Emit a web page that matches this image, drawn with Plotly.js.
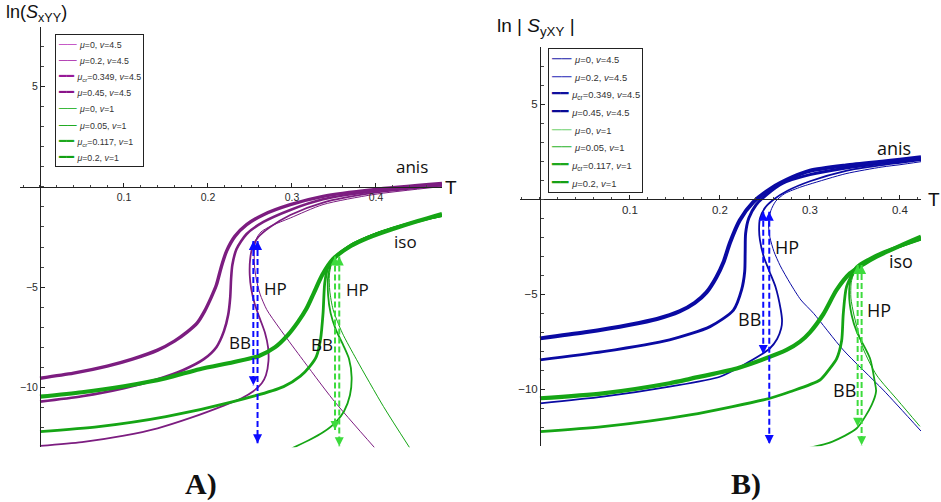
<!DOCTYPE html>
<html><head><meta charset="utf-8">
<script src="https://cdn.plot.ly/plotly-3.0.1.min.js"></script>
<style>html,body{margin:0;padding:0;background:#fff}</style>
</head><body>
<div id="chart" style="width:941px;height:502px"></div>
<script>
// ---------- Panel A : ln(S_xYY) ----------
// purple, v = 4.5
const aP0_T   = [0.399, 0.349, 0.31, 0.285, 0.27, 0.262, 0.2575, 0.2553, 0.2552, 0.2575, 0.263, 0.275, 0.298, 0.337, 0.397, 0.4786];
const aP0_Y   = [-13.05, -10.63, -8.47, -7.05, -6.13, -5.35, -4.6, -3.9, -3.2, -2.6, -2.25, -1.95, -1.55, -0.88, -0.38, 0.02];
const aP02_T  = [0, 0.05, 0.1, 0.14, 0.18, 0.218, 0.24, 0.254, 0.264, 0.269, 0.272, 0.2715, 0.268, 0.262, 0.256, 0.2515, 0.2497, 0.2502, 0.253, 0.26, 0.274, 0.298, 0.337, 0.397, 0.4786];
const aP02_Y  = [-12.93, -12.74, -12.42, -12.05, -11.52, -10.93, -10.55, -10.2, -9.8, -9.4, -8.7, -8.0, -7.3, -6.6, -5.9, -5.1, -4.4, -3.6, -3.0, -2.5, -2.0, -1.4, -0.78, -0.3, 0.07];
const aPcr_T  = [0, 0.05, 0.1, 0.14, 0.17, 0.195, 0.21, 0.219, 0.224, 0.2265, 0.2275, 0.229, 0.234, 0.246, 0.266, 0.298, 0.337, 0.397, 0.4786];
const aPcr_Y  = [-10.72, -10.45, -10.05, -9.6, -9.15, -8.6, -8.0, -7.2, -6.4, -5.5, -4.6, -3.9, -3.1, -2.35, -1.75, -1.15, -0.62, -0.22, 0.12];
const aP045_T = [0, 0.04, 0.08, 0.11, 0.14, 0.16, 0.175, 0.187, 0.196, 0.204, 0.21, 0.216, 0.222, 0.232, 0.246, 0.266, 0.298, 0.337, 0.397, 0.4786];
const aP045_Y = [-9.55, -9.3, -8.95, -8.6, -8.15, -7.7, -7.25, -6.8, -6.2, -5.5, -4.9, -3.97, -3.22, -2.47, -1.885, -1.385, -0.885, -0.47, -0.135, 0.17];
// green, v = 1
const aG0_T   = [0.4405, 0.409, 0.377, 0.36, 0.349, 0.345, 0.3445, 0.347, 0.353, 0.37, 0.4, 0.44, 0.4786];
const aG0_Y   = [-13.05, -10.97, -8.63, -7.3, -6.13, -5.2, -4.4, -3.85, -3.4, -2.85, -2.3, -1.8, -1.48];
const aG005_T = [0.3, 0.32, 0.337, 0.352, 0.362, 0.369, 0.371, 0.368, 0.361, 0.352, 0.346, 0.343, 0.343, 0.346, 0.352, 0.37, 0.4, 0.44, 0.4786];
const aG005_Y = [-13.05, -12.65, -12.25, -11.75, -11.2, -10.4, -9.5, -8.6, -7.9, -7.1, -6.3, -5.4, -4.5, -3.9, -3.45, -2.9, -2.32, -1.8, -1.45];
const aGcr_T  = [0, 0.07, 0.15, 0.23, 0.29, 0.31, 0.321, 0.329, 0.334, 0.337, 0.339, 0.343, 0.352, 0.37, 0.4, 0.44, 0.4786];
const aGcr_Y  = [-12.22, -11.97, -11.47, -10.72, -9.97, -9.45, -8.97, -8.47, -7.6, -6.3, -4.8, -4.0, -3.5, -2.95, -2.35, -1.83, -1.42];
const aG02_T  = [0, 0.05, 0.1, 0.15, 0.19, 0.23, 0.26, 0.28, 0.295, 0.307, 0.317, 0.326, 0.336, 0.349, 0.37, 0.39, 0.42, 0.45, 0.4786];
const aG02_Y  = [-10.47, -10.25, -9.95, -9.55, -9.1, -8.75, -8.45, -8.0, -7.4, -6.75, -6.1, -5.3, -4.4, -3.6, -2.95, -2.55, -2.1, -1.7, -1.35];
// HP / BB arrows
const arrA_T      = [0.254, 0.259, 0.3512, 0.3563];
const arrA_top    = [-2.7, -2.7, -3.47, -3.47];
const arrA_bottom = [-9.9, -12.8, -12.13, -12.95];

// ---------- Panel B : ln|S_yXY| ----------
const bB0_T   = [0.4234, 0.3815, 0.337, 0.304, 0.29, 0.278, 0.267, 0.26, 0.2555, 0.254, 0.2565, 0.262, 0.272, 0.29, 0.3, 0.34, 0.38, 0.4, 0.4234];
const bB0_Y   = [-12.2, -10.04, -7.93, -6.0, -5.3, -4.42, -3.5, -2.75, -2.0, -1.3, -0.6, -0.1, 0.3, 0.65, 0.8, 1.35, 1.7, 1.82, 1.98];
const bB02_T  = [0, 0.07, 0.144, 0.2, 0.226, 0.245, 0.2556, 0.2635, 0.268, 0.269, 0.2675, 0.2617, 0.255, 0.2485, 0.2444, 0.2435, 0.2445, 0.25, 0.26, 0.275, 0.3, 0.34, 0.38, 0.4, 0.4234];
const bB02_Y  = [-10.74, -10.39, -9.86, -9.34, -8.72, -8.2, -7.84, -7.35, -6.8, -6.4, -5.8, -4.6, -3.8, -3.0, -2.14, -1.62, -1.0, -0.45, 0.0, 0.45, 0.95, 1.5, 1.8, 1.92, 2.06];
const bBcr_T  = [0, 0.07, 0.144, 0.189, 0.215, 0.224, 0.2275, 0.228, 0.2285, 0.232, 0.24, 0.252, 0.27, 0.3, 0.34, 0.38, 0.4, 0.4234];
const bBcr_Y  = [-8.45, -8.02, -7.4, -6.7, -5.83, -4.77, -3.8, -2.8, -1.8, -1.0, -0.3, 0.25, 0.85, 1.3, 1.65, 1.9, 2.0, 2.15];
const bB045_T = [0, 0.05, 0.1, 0.13, 0.155, 0.172, 0.185, 0.196, 0.204, 0.211, 0.222, 0.237, 0.256, 0.28, 0.3, 0.34, 0.38, 0.4, 0.4234];
const bB045_Y = [-7.32, -7.0, -6.6, -6.3, -5.9, -5.45, -4.9, -4.1, -3.3, -2.3, -1.1, -0.15, 0.55, 1.15, 1.5, 1.78, 1.98, 2.08, 2.22];
const bG0_T   = [0.4222, 0.398, 0.374, 0.359, 0.3489, 0.3455, 0.3458, 0.349, 0.355, 0.365, 0.385, 0.405, 0.4234];
const bG0_Y   = [-11.95, -10.6, -9.25, -7.84, -6.09, -5.2, -4.4, -3.85, -3.45, -3.15, -2.75, -2.45, -2.15];
const bG005_T = [0.298, 0.325, 0.352, 0.3685, 0.3735, 0.372, 0.3667, 0.352, 0.3463, 0.3435, 0.3455, 0.3537, 0.365, 0.38, 0.4, 0.4234];
const bG005_Y = [-13.1, -12.75, -12.05, -10.83, -10.1, -9.6, -8.37, -6.97, -6.09, -5.0, -4.2, -3.6, -3.2, -2.85, -2.5, -2.12];
const bGcr_T  = [0, 0.07, 0.1667, 0.2556, 0.2778, 0.3111, 0.3222, 0.3296, 0.3352, 0.337, 0.3407, 0.3519, 0.365, 0.38, 0.4, 0.4234];
const bGcr_Y  = [-12.23, -11.97, -11.35, -10.47, -10.13, -9.51, -8.9, -8.4, -7.45, -6.05, -4.6, -3.55, -3.15, -2.8, -2.45, -2.07];
const bG02_T  = [0, 0.07, 0.144, 0.1667, 0.2185, 0.2407, 0.274, 0.289, 0.3, 0.3148, 0.3296, 0.3444, 0.36, 0.374, 0.4, 0.4234];
const bG02_Y  = [-10.47, -10.21, -9.68, -9.45, -8.9, -8.55, -7.93, -7.49, -7.0, -6.05, -4.77, -3.9, -3.4, -3.02, -2.45, -1.97];
const arrB_T      = [0.2481, 0.2548, 0.353, 0.3574];
const arrB_top    = [-0.65, -0.65, -3.46, -3.46];
const arrB_bottom = [-8.14, -12.88, -11.97, -12.95];

// ---------- ticks & labels ----------
const xTickVals = [0.1, 0.2, 0.3, 0.4];
const xTickText = ['0.1', '0.2', '0.3', '0.4'];
const yTickVals = [-10, -5, 5];
const yTickText = ['\u221210', '\u22125', '5'];
const seriesLabels = [
  '<i>μ</i>=0, <i>v</i>=4.5', '<i>μ</i>=0.2, <i>v</i>=4.5',
  '<i>μ</i><sub>cr</sub>=0.349, <i>v</i>=4.5', '<i>μ</i>=0.45, <i>v</i>=4.5',
  '<i>μ</i>=0, <i>v</i>=1', '<i>μ</i>=0.05, <i>v</i>=1',
  '<i>μ</i><sub>cr</sub>=0.117, <i>v</i>=1', '<i>μ</i>=0.2, <i>v</i>=1'];

// ---------- styles ----------
const PURPLE = '#7c1d80', BLUE = '#0a0aa3', GREEN = '#15a515';
const ARROW_BLUE = '#0b0bff', ARROW_GREEN = '#3ddb3d';
const widths = [1, 1.8, 2.6, 3.4];
const gWidths = [1, 1.8, 2.8, 4.2];

function curve(T, Y, color, width, xa, ya) {
  return {type: 'scatter', mode: 'lines', x: T, y: Y, xaxis: xa, yaxis: ya,
    showlegend: false, hoverinfo: 'skip',
    line: {color: color, width: width, shape: 'spline', smoothing: 0.7}};
}
function arrow(t, top, bottom, color, xa, ya) {
  return {type: 'scatter', mode: 'lines+markers', x: [t, t], y: [top, bottom],
    xaxis: xa, yaxis: ya, showlegend: false, hoverinfo: 'skip',
    line: {color: color, width: 2, dash: '6px,3px'},
    marker: {symbol: ['arrow-up', 'arrow-down'], size: 9, color: color, line: {width: 0}}};
}

const traces = [
  curve(aP0_T, aP0_Y, PURPLE, widths[0], 'x', 'y'),
  curve(aP02_T, aP02_Y, PURPLE, widths[1], 'x', 'y'),
  curve(aPcr_T, aPcr_Y, PURPLE, widths[2], 'x', 'y'),
  curve(aP045_T, aP045_Y, PURPLE, widths[3], 'x', 'y'),
  curve(aG0_T, aG0_Y, GREEN, gWidths[0], 'x', 'y'),
  curve(aG005_T, aG005_Y, GREEN, gWidths[1], 'x', 'y'),
  curve(aGcr_T, aGcr_Y, GREEN, gWidths[2], 'x', 'y'),
  curve(aG02_T, aG02_Y, GREEN, gWidths[3], 'x', 'y'),
  curve(bB0_T, bB0_Y, BLUE, widths[0], 'x2', 'y2'),
  curve(bB02_T, bB02_Y, BLUE, widths[1], 'x2', 'y2'),
  curve(bBcr_T, bBcr_Y, BLUE, widths[2] + 0.3, 'x2', 'y2'),
  curve(bB045_T, bB045_Y, BLUE, widths[3] + 0.6, 'x2', 'y2'),
  curve(bG0_T, bG0_Y, GREEN, gWidths[0], 'x2', 'y2'),
  curve(bG005_T, bG005_Y, GREEN, gWidths[1], 'x2', 'y2'),
  curve(bGcr_T, bGcr_Y, GREEN, gWidths[2], 'x2', 'y2'),
  curve(bG02_T, bG02_Y, GREEN, gWidths[3], 'x2', 'y2')
];
const arrowColors = [ARROW_BLUE, ARROW_BLUE, ARROW_GREEN, ARROW_GREEN];
arrA_T.forEach((t, i) => traces.push(arrow(t, arrA_top[i], arrA_bottom[i], arrowColors[i], 'x', 'y')));
arrB_T.forEach((t, i) => traces.push(arrow(t, arrB_top[i], arrB_bottom[i], arrowColors[i], 'x2', 'y2')));

// ---------- layout ----------
const W = 941, H = 502;
function xAxis(d0, d1, r0, r1, posPx, fs) {
  return {domain: [d0 / W, d1 / W], range: [r0, r1], anchor: 'free', position: 1 - posPx / H,
    showline: true, linecolor: '#222', linewidth: 1, zeroline: false, showgrid: false,
    ticks: 'inside', ticklen: 4, tickwidth: 1, tickcolor: '#222',
    tickmode: 'array', tickvals: xTickVals, ticktext: xTickText,
    minor: {dtick: 0.02, tick0: 0, ticks: 'inside', ticklen: 2.5, tickwidth: 1, tickcolor: '#444', showgrid: false},
    tickfont: {family: 'Liberation Sans, Arial, sans-serif', size: fs, color: '#2a2a2a'}, fixedrange: true};
}
function yAxis(top, bottom, posPx, fs) {
  return {domain: [1 - bottom / H, 1 - top / H], range: [-13, 8], anchor: 'free', position: posPx / W,
    showline: true, linecolor: '#222', linewidth: 1, zeroline: false, showgrid: false,
    ticks: 'inside', ticklen: 4, tickwidth: 1, tickcolor: '#222',
    tickmode: 'array', tickvals: yTickVals, ticktext: yTickText,
    minor: {dtick: 1, tick0: 0, ticks: 'inside', ticklen: 2.5, tickwidth: 1, tickcolor: '#444', showgrid: false},
    tickfont: {family: 'Liberation Sans, Arial, sans-serif', size: fs, color: '#2a2a2a'}, fixedrange: true};
}
function at(px, py) { return {x: px / W, y: 1 - py / H, xref: 'paper', yref: 'paper'}; }
function label(text, px, py, size, family, extra) {
  return Object.assign(at(px, py), {text: text, showarrow: false, xanchor: 'center', yanchor: 'middle',
    font: {family: family || 'Open Sans, sans-serif', size: size, color: '#111'}}, extra || {});
}
function legendBox(px, py, lineFont, textFont, colors, glyphs) {
  const lines = seriesLabels.map((s, i) =>
    '<span style="color:' + colors[i] + '">' + glyphs[i] + '</span> <span style="font-size:' + textFont + 'px">' + s + '</span>');
  return Object.assign(at(px, py), {text: lines.join('<br>'), showarrow: false, align: 'left',
    xanchor: 'left', yanchor: 'top', bgcolor: '#fff', bordercolor: '#222', borderwidth: 1, borderpad: 2,
    font: {family: 'Liberation Sans, DejaVu Sans, sans-serif', size: lineFont, color: '#333'}});
}
const glyphs = ['──', '──', '━━', '━━', '──', '──', '━━', '━━'];
const legColorsA = ['#c65ac6', '#b545b5', '#981a98', '#8a148a', '#3cb83c', '#22aa22', '#1ea81e', '#14a014'];
const legColorsB = ['#1a1aaa', '#2a2ab8', '#10109e', '#0a0a96', '#74d474', '#2eb42e', '#1ea81e', '#16a016'];

const annotations = [
  label('ln(<i>S</i><sub>xYY</sub>)', 4, 14, 18, 'Liberation Sans, Arial, sans-serif', {xanchor: 'left'}),
  label('ln | <i>S</i><sub>yXY</sub> |', 495, 27, 19, 'Liberation Sans, Arial, sans-serif', {xanchor: 'left'}),
  label('T', 451, 187, 19, 'Liberation Sans, Arial, sans-serif'),
  label('T', 934, 199, 19, 'Liberation Sans, Arial, sans-serif'),
  label('anis', 412, 167, 17), label('iso', 405, 241, 17),
  label('HP', 275, 288, 17), label('BB', 240, 342, 17),
  label('HP', 357, 289, 17), label('BB', 322, 344, 17),
  label('anis', 894, 148, 18), label('iso', 901, 261, 18),
  label('HP', 787, 247, 18), label('BB', 749, 319, 18),
  label('HP', 879, 310, 18), label('BB', 844, 390, 18),
  label('<b>A)</b>', 201, 484, 30, 'Liberation Serif, serif'),
  label('<b>B)</b>', 746, 484, 30, 'Liberation Serif, serif'),
  legendBox(55, 34.5, 12.4, 8.8, legColorsA, glyphs),
  legendBox(548, 47.5, 13.6, 9.4, legColorsB, glyphs)
];

const layout = {
  width: W, height: H, margin: {l: 0, r: 0, t: 0, b: 0},
  paper_bgcolor: '#fff', plot_bgcolor: 'rgba(0,0,0,0)', showlegend: false, hovermode: false,
  xaxis: xAxis(20, 442, -0.0238, 0.4786, 187.3, 10.5),
  yaxis: yAxis(26.7, 447.3, 40, 10.5),
  xaxis2: xAxis(520, 921, -0.0222, 0.4234, 199.3, 11.5),
  yaxis2: yAxis(47.3, 446.3, 540, 11.5),
  annotations: annotations
};
Plotly.newPlot('chart', traces, layout, {displayModeBar: false, staticPlot: true});
</script>
</body></html>
